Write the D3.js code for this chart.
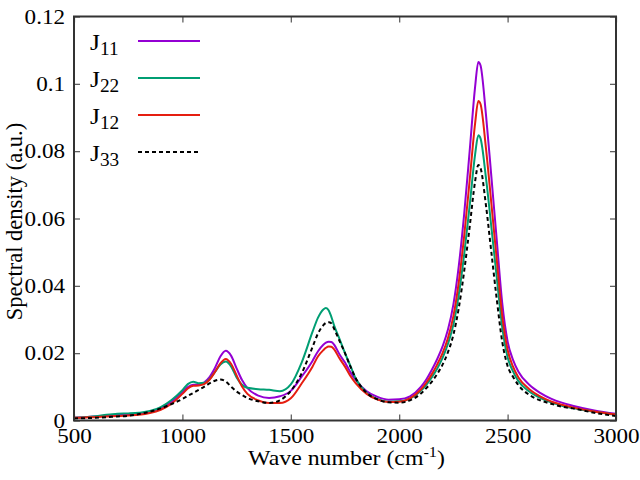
<!DOCTYPE html>
<html>
<head>
<meta charset="utf-8">
<script src="https://cdn.jsdelivr.net/npm/d3@7"></script>
<style>
  body { margin: 0; background: #fff; }
  text { font-family: "Liberation Serif", "DejaVu Serif", serif; }
</style>
</head>
<body>
<div id="my_dataviz"></div>
<script>
var margin = { top: 16.5, right: 24, bottom: 59.5, left: 74 },
    width = 640 - margin.left - margin.right,
    height = 480 - margin.top - margin.bottom;

// wave numbers (cm-1)
const waveNumber = [500, 550, 600, 650, 700, 750, 800, 850, 900, 950, 1000,
    1025, 1050, 1075, 1100, 1125, 1150, 1175, 1200, 1225, 1250, 1275, 1300,
    1350, 1400, 1450, 1500, 1550, 1600,
    1625, 1650, 1662, 1675, 1687, 1700, 1725, 1750, 1775, 1800,
    1850, 1900, 1950, 2000, 2050, 2100, 2125, 2150, 2175, 2200,
    2225, 2250, 2275, 2300, 2325, 2350, 2365, 2375, 2400, 2425, 2450, 2475, 2500, 2525, 2550,
    2600, 2650, 2700, 2750, 2800, 2900, 3000];

const j11 = [.0008, .0010, .0012, .0014, .0016, .0018, .0021, .0026, .0036, .0056, .0085,
    .0099, .0106, .0107, .0113, .0129, .0156, .0190, .0207, .0192, .0155, .0120, .0096,
    .0074, .0067, .0072, .0088, .0130, .0177,
    .0205, .0225, .0231, .0234, .0233, .0225, .0196, .0172, .0143, .0120,
    .0087, .0070, .0062, .0063, .0072, .0100, .0122, .0150, .0182, .0220,
    .0270, .0345, .0460, .0615, .0800, .0990, .1065, .1055, .0910, .0725, .0536, .0350, .0235, .0180, .0145,
    .0106, .0082, .0065, .0053, .0044, .0030, .0020];

const j22 = [.0008, .0010, .0013, .0017, .0020, .0021, .0023, .0028, .0040, .0061, .0090,
    .0108, .0115, .0111, .0112, .0123, .0144, .0166, .0175, .0160, .0128, .0106, .0097,
    .0093, .0091, .0087, .0107, .0172, .0263,
    .0305, .0330, .0334, .0327, .0308, .0282, .0242, .0200, .0162, .0124,
    .0082, .0063, .0056, .0057, .0065, .0088, .0106, .0128, .0154, .0186,
    .0228, .0285, .0375, .0495, .0638, .0790, .0847, .0838, .0722, .0575, .0425, .0278, .0188, .0146, .0117,
    .0086, .0067, .0054, .0044, .0037, .0026, .0017];

const j12 = [.0008, .0009, .0010, .0012, .0013, .0015, .0017, .0022, .0032, .0050, .0079,
    .0095, .0103, .0104, .0108, .0121, .0144, .0170, .0183, .0168, .0134, .0101, .0079,
    .0060, .0052, .0052, .0066, .0110, .0160,
    .0190, .0209, .0216, .0220, .0219, .0211, .0184, .0160, .0132, .0110,
    .0079, .0062, .0055, .0056, .0066, .0092, .0112, .0137, .0166, .0200,
    .0245, .0310, .0412, .0550, .0713, .0882, .0949, .0940, .0810, .0645, .0478, .0312, .0210, .0160, .0128,
    .0093, .0072, .0057, .0047, .0039, .0027, .0018];

const j33 = [.0006, .0007, .0008, .0010, .0012, .0014, .0019, .0026, .0036, .0049, .0064,
    .0073, .0082, .0091, .0100, .0110, .0118, .0122, .0116, .0100, .0086, .0076, .0067,
    .0057, .0052, .0060, .0088, .0140, .0218,
    .0258, .0283, .0290, .0292, .0289, .0272, .0236, .0200, .0160, .0125,
    .0082, .0063, .0054, .0053, .0060, .0080, .0096, .0115, .0138, .0166,
    .0203, .0255, .0335, .0445, .0575, .0710, .0759, .0750, .0640, .0500, .0360, .0235, .0162, .0130, .0105,
    .0076, .0060, .0050, .0041, .0036, .0023, .0013];

const seriesNames = ["11", "22", "12", "33"];
const seriesColors = ["#9400d3", "#009e73", "#e51e10", "#000000"];
const xTicks = [500, 1000, 1500, 2000, 2500, 3000];
const yTicks = [0, 0.02, 0.04, 0.06, 0.08, 0.1, 0.12];

const series = [j11, j22, j12, j33];

let svg = d3.select("#my_dataviz").append("svg")
    .attr("width", width + margin.left + margin.right)
    .attr("height", height + margin.top + margin.bottom)
    .append("g")
    .attr("transform", "translate(" + margin.left + "," + margin.top + ")");

const x = d3.scaleLinear().domain([500, 3000]).range([0, width]);
const y = d3.scaleLinear().domain([0, 0.12]).range([height, 0]);

// the reference font is a little wider than Liberation Serif
function widen(sel, f) {
    sel.each(function() {
        const len = this.getComputedTextLength();
        d3.select(this).attr("textLength", len * f).attr("lengthAdjust", "spacingAndGlyphs");
    });
}

function styleAxis(g) {
    g.select(".domain").remove();
    g.selectAll(".tick line").attr("stroke", "#555").attr("stroke-width", 1.2);
    g.selectAll("text").attr("fill", "#000").style("font-size", "21px")
        .style("font-family", "'Liberation Serif', serif");
    widen(g.selectAll("text"), 1.1);
}

svg.append("g")
    .attr("transform", "translate(0," + height + ")")
    .call(d3.axisBottom(x).tickValues(xTicks).tickSize(-6).tickPadding(8).tickFormat(d3.format("d")))
    .call(styleAxis);

svg.append("g")
    .call(d3.axisTop(x).tickValues(xTicks).tickSize(-6).tickFormat(""))
    .call(styleAxis);

svg.append("g")
    .call(d3.axisLeft(y).tickValues(yTicks).tickSize(-6).tickPadding(9).tickFormat(d => String(+d.toFixed(2))))
    .call(styleAxis);

svg.append("g")
    .attr("transform", "translate(" + width + ",0)")
    .call(d3.axisRight(y).tickValues(yTicks).tickSize(-6).tickFormat(""))
    .call(styleAxis);

// curves
const line = d3.line()
    .x((d, i) => x(waveNumber[i]))
    .y(d => y(d))
    .curve(d3.curveMonotoneX);

series.forEach((s, k) => {
    svg.append("path")
        .datum(s)
        .attr("fill", "none")
        .attr("stroke", seriesColors[k])
        .attr("stroke-width", 2)
        .attr("stroke-dasharray", k == 3 ? "4,3" : null)
        .attr("d", line);
});

// frame
svg.append("rect")
    .attr("width", width)
    .attr("height", height)
    .attr("fill", "none")
    .attr("stroke", "#333")
    .attr("stroke-width", 2);

// legend
const legend = svg.append("g").attr("transform", "translate(16,0)");
seriesNames.forEach((n, k) => {
    const ly = 24.5 + k * 37;
    const t = legend.append("text")
        .attr("transform", "translate(0," + (ly + 9) + ") scale(1.07,1)")
        .style("font-size", "24px");
    t.append("tspan").text("J");
    t.append("tspan").attr("dy", 5).style("font-size", "18px").text(n);
    legend.append("line")
        .attr("x1", 48).attr("x2", 110)
        .attr("y1", ly).attr("y2", ly)
        .attr("stroke", seriesColors[k])
        .attr("stroke-width", 2)
        .attr("stroke-dasharray", k == 3 ? "4,3" : null);
});

// axis titles
const xt = svg.append("text")
    .attr("text-anchor", "middle")
    .style("font-size", "20.5px");
xt.append("tspan").text("Wave number (cm");
xt.append("tspan").attr("dy", -8).style("font-size", "14px").text("-1");
xt.append("tspan").attr("dy", 8).text(")");
const xtw = xt.node().getBBox().width;
xt.attr("transform", "translate(" + (width / 2 + 1.5) + "," + (height + 44.5) + ") scale(" + (197 / xtw) + ",1)");

svg.append("text")
    .attr("transform", "translate(" + (-52) + "," + (height / 2 + 3) + ") rotate(-90)")
    .attr("text-anchor", "middle")
    .style("font-size", "22.5px")
    .text("Spectral density (a.u.)");
</script>
</body>
</html>
